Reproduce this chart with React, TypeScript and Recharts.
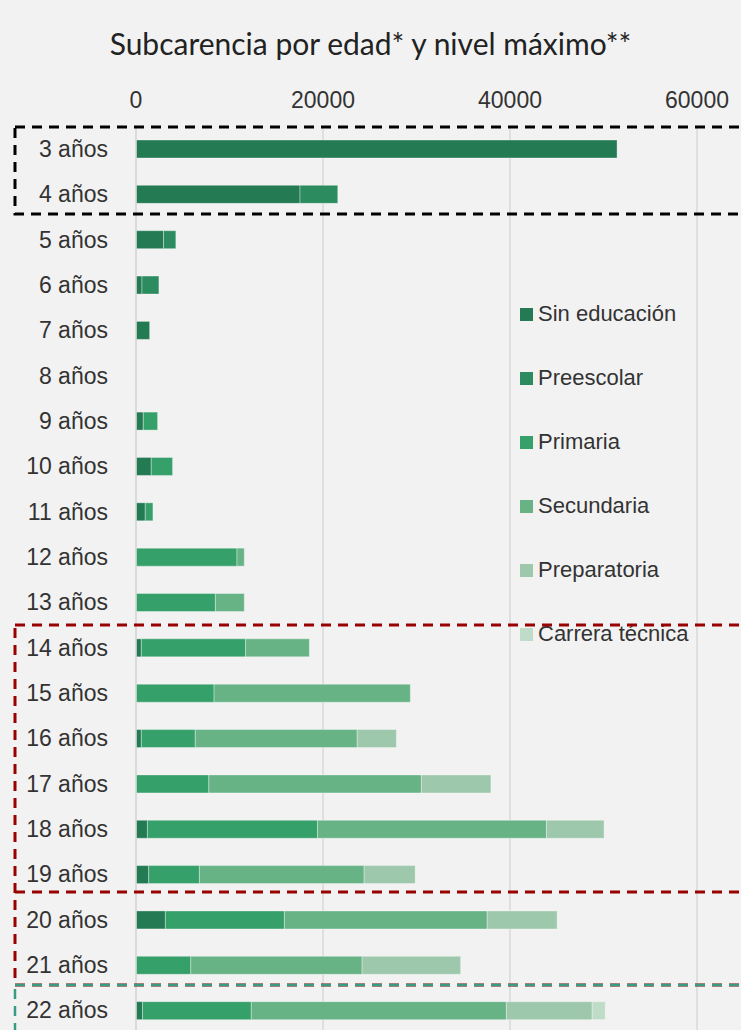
import React from 'react';
import { BarChart, Bar, XAxis, YAxis, CartesianGrid } from 'recharts';

const edades = [
  '3 años', '4 años', '5 años', '6 años', '7 años', '8 años', '9 años', '10 años', '11 años', '12 años',
  '13 años', '14 años', '15 años', '16 años', '17 años', '18 años', '19 años', '20 años', '21 años', '22 años',
];

const sinEducacion = [51450, 17540, 2950, 640, 1460, 0, 780, 1630, 990, 0, 0, 570, 0, 570, 0, 1220, 1360, 3140, 0, 700];
const preescolar = [0, 4040, 1310, 1810, 0, 0, 0, 0, 0, 0, 0, 0, 0, 0, 0, 0, 0, 0, 0, 0];
const primaria = [0, 0, 0, 0, 0, 0, 1530, 2280, 820, 10800, 8490, 11150, 8350, 5770, 7790, 18190, 5420, 12730, 5860, 11630];
const secundaria = [0, 0, 0, 0, 0, 0, 0, 0, 0, 780, 3090, 6820, 20990, 17320, 22730, 24490, 17620, 21690, 18320, 27280];
const preparatoria = [0, 0, 0, 0, 0, 0, 0, 0, 0, 0, 0, 0, 0, 4190, 7440, 6160, 5460, 7480, 10540, 9180];
const carreraTecnica = [0, 0, 0, 0, 0, 0, 0, 0, 0, 0, 0, 0, 0, 0, 0, 0, 0, 0, 0, 1400];

const xTicks = [0, 20000, 40000, 60000];

const series = [
  { key: 'sin', name: 'Sin educación', values: sinEducacion, color: '#247a52' },
  { key: 'pre', name: 'Preescolar', values: preescolar, color: '#2d8c5f' },
  { key: 'pri', name: 'Primaria', values: primaria, color: '#36a06a' },
  { key: 'sec', name: 'Secundaria', values: secundaria, color: '#67b386' },
  { key: 'prep', name: 'Preparatoria', values: preparatoria, color: '#9dc8ab' },
  { key: 'ct', name: 'Carrera técnica', values: carreraTecnica, color: '#bfdcc8' },
];

const data = edades.map((edad, i) => {
  const row: Record<string, string | number> = { edad };
  series.forEach((s) => { row[s.key] = s.values[i]; });
  return row;
});

const font = '"Liberation Sans", Arial, sans-serif';

const App = () => {
  return (
    <div style={{ position: 'relative', width: 741, height: 1030, overflow: 'hidden', background: '#f2f2f2' }}>
      <style>{'body{margin:0}'}</style>
      <div style={{ position: 'absolute', top: 25, left: 0, width: 741, textAlign: 'center', fontFamily: 'Lato, sans-serif', fontSize: 30, lineHeight: '36px', color: '#222' }}>
        Subcarencia por edad* y nivel máximo**
      </div>
      <BarChart
        width={741}
        height={1040}
        data={data}
        layout="vertical"
        margin={{ top: 86, right: 44, bottom: 7, left: 0 }}
        barSize={18}
        style={{ position: 'absolute', top: 0, left: 0 }}
      >
        <CartesianGrid horizontal={false} stroke="#d9d9d9" strokeWidth={1.5} />
        <XAxis
          type="number"
          orientation="top"
          domain={[0, 60000]}
          ticks={xTicks}
          height={40}
          axisLine={false}
          tickLine={false}
          tickSize={0}
          tickMargin={18}
          tick={{ fill: '#333', fontSize: 23, fontFamily: font }}
        />
        <YAxis
          type="category"
          dataKey="edad"
          width={136}
          interval={0}
          axisLine={{ stroke: '#d9d9d9', strokeWidth: 1.5 }}
          tickLine={false}
          tickSize={0}
          tickMargin={28}
          tick={{ fill: '#333', fontSize: 23, fontFamily: font }}
        />
        {series.map((s) => (
          <Bar
            key={s.key}
            dataKey={s.key}
            name={s.name}
            stackId="a"
            fill={s.color}
            stroke="#ffffff"
            strokeOpacity={0.35}
            strokeWidth={1}
            isAnimationActive={false}
          />
        ))}
      </BarChart>
      <div style={{ position: 'absolute', left: 520, top: 282, fontFamily: font, fontSize: 22, color: '#333' }}>
        {series.map((s) => (
          <div key={s.key} style={{ display: 'flex', alignItems: 'center', height: 64 }}>
            <span style={{ display: 'inline-block', width: 13, height: 13, background: s.color, marginRight: 5 }} />
            <span>{s.name}</span>
          </div>
        ))}
      </div>
      <svg width={741} height={1030} style={{ position: 'absolute', top: 0, left: 0, pointerEvents: 'none' }}>
        <rect x={15} y={127} width={760} height={87} fill="none" stroke="#000" strokeWidth={3} strokeDasharray="10 7" />
        <rect x={15} y={625} width={760} height={360} fill="none" stroke="#990000" strokeWidth={3} strokeDasharray="10 7" />
        <line x1={15} y1={892} x2={760} y2={892} stroke="#990000" strokeWidth={3} strokeDasharray="10 7" />
        <rect x={15} y={985} width={760} height={80} fill="none" stroke="#3a9a82" strokeWidth={2.5} strokeDasharray="10 7" />
      </svg>
    </div>
  );
};

export default App;
